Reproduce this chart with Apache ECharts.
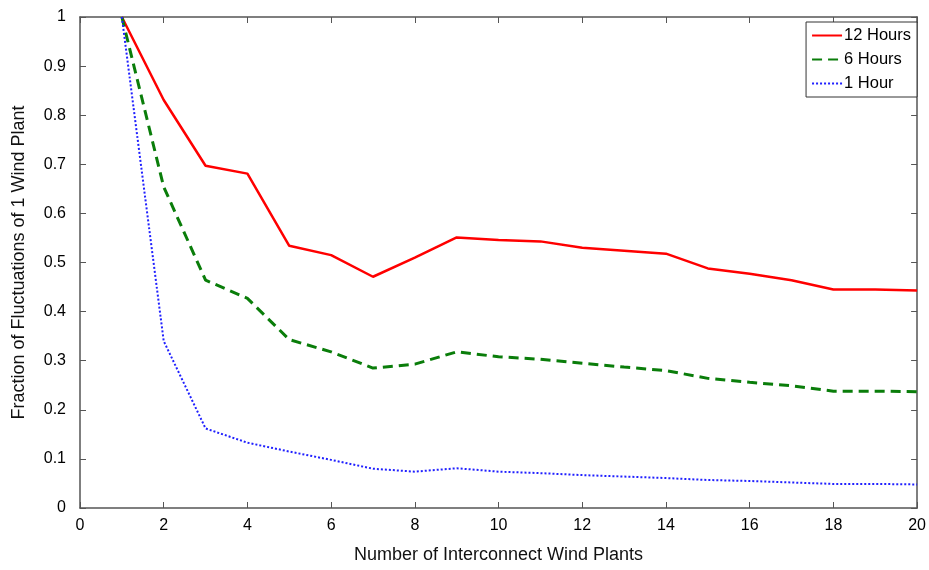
<!DOCTYPE html>
<html>
<head>
<meta charset="utf-8">
<script src="https://cdn.jsdelivr.net/npm/echarts@6/dist/echarts.min.js"></script>
<style>
  html, body { margin: 0; padding: 0; background: #fff; }
  #chart { width: 929px; height: 570px; }
</style>
</head>
<body>
<div id="chart"></div>
<script>
// number of interconnected plants
const plants = [1, 2, 3, 4, 5, 6, 7, 8, 9, 10, 11, 12, 13, 14, 15, 16, 17, 18, 19, 20]

// values
const hours12 = [1.0, 0.831, 0.697, 0.681, 0.534, 0.515, 0.471, 0.51, 0.551, 0.546,
  0.543, 0.53, 0.524, 0.518, 0.488, 0.477, 0.464, 0.445, 0.445, 0.443]
const hours6 = [1.0, 0.654, 0.464, 0.427, 0.343, 0.318, 0.285, 0.293, 0.318, 0.308,
  0.303, 0.295, 0.287, 0.28, 0.264, 0.256, 0.249, 0.238, 0.238, 0.237]
const hours1 = [1.0, 0.34, 0.162, 0.133, 0.115, 0.098, 0.08, 0.074, 0.081, 0.074,
  0.071, 0.067, 0.064, 0.061, 0.057, 0.055, 0.052, 0.049, 0.049, 0.048]

const seriesNames = ['12 Hours', '6 Hours', '1 Hour']

const pairs = ys => plants.map((x, i) => [x, ys[i]])

const chart = echarts.init(document.getElementById('chart'))

const font = 'Liberation Sans, Arial, Helvetica, sans-serif'
const axisColor = '#555'

// helper axes without labels close the box on top and right
const frameAxis = {
  axisLine: { show: true, onZero: false, lineStyle: { color: axisColor, width: 1.5 } },
  axisTick: { show: true, inside: true, length: 6, lineStyle: { color: axisColor } },
  axisLabel: { show: false },
  splitLine: { show: false }
}

chart.setOption({
  animation: false,
  textStyle: { fontFamily: font },
  grid: { left: 80, right: 9, top: 17, bottom: 62 },
  legend: {
    orient: 'vertical',
    right: 12,
    top: 22,
    data: seriesNames,
    itemWidth: 30,
    itemHeight: 16,
    itemGap: 7,
    padding: [5, 6, 5, 5],
    borderColor: '#333',
    borderWidth: 1,
    backgroundColor: '#fff',
    itemStyle: { opacity: 0 },
    textStyle: { fontSize: 16.5, color: '#000', padding: [0, 0, 0, -3] }
  },
  xAxis: [
    {
      type: 'value',
      min: 0,
      max: 20,
      interval: 2,
      name: 'Number of Interconnect Wind Plants',
      nameLocation: 'middle',
      nameGap: 38,
      nameTextStyle: { fontSize: 18, color: '#111' },
      axisLine: { onZero: false, lineStyle: { color: axisColor, width: 1.5 } },
      axisTick: { inside: true, length: 6, lineStyle: { color: axisColor } },
      axisLabel: { fontSize: 16, color: '#000', margin: 10 },
      splitLine: { show: false }
    },
    Object.assign({ type: 'value', min: 0, max: 20, interval: 2, position: 'top' }, frameAxis)
  ],
  yAxis: [
    {
      type: 'value',
      min: 0,
      max: 1,
      interval: 0.1,
      name: 'Fraction of Fluctuations of 1 Wind Plant',
      nameLocation: 'middle',
      nameGap: 52,
      nameTextStyle: { fontSize: 18, color: '#111' },
      axisLine: { show: true, onZero: false, lineStyle: { color: axisColor, width: 1.5 } },
      axisTick: { show: true, inside: true, length: 6, lineStyle: { color: axisColor } },
      axisLabel: { fontSize: 16, color: '#000', margin: 14 },
      splitLine: { show: false }
    },
    Object.assign({ type: 'value', min: 0, max: 1, interval: 0.1, position: 'right' }, frameAxis)
  ],
  series: [
    {
      name: seriesNames[0],
      type: 'line',
      symbol: 'none',
      data: pairs(hours12),
      lineStyle: { color: '#ff0000', width: 2.5 },
      itemStyle: { color: '#ff0000' }
    },
    {
      name: seriesNames[1],
      type: 'line',
      symbol: 'none',
      data: pairs(hours6),
      lineStyle: { color: '#0a7d0a', width: 3, type: [10, 6] },
      itemStyle: { color: '#0a7d0a' }
    },
    {
      name: seriesNames[2],
      type: 'line',
      symbol: 'none',
      data: pairs(hours1),
      lineStyle: { color: '#2020ff', width: 2, type: [2, 2] },
      itemStyle: { color: '#2020ff' }
    }
  ]
})
</script>
</body>
</html>
